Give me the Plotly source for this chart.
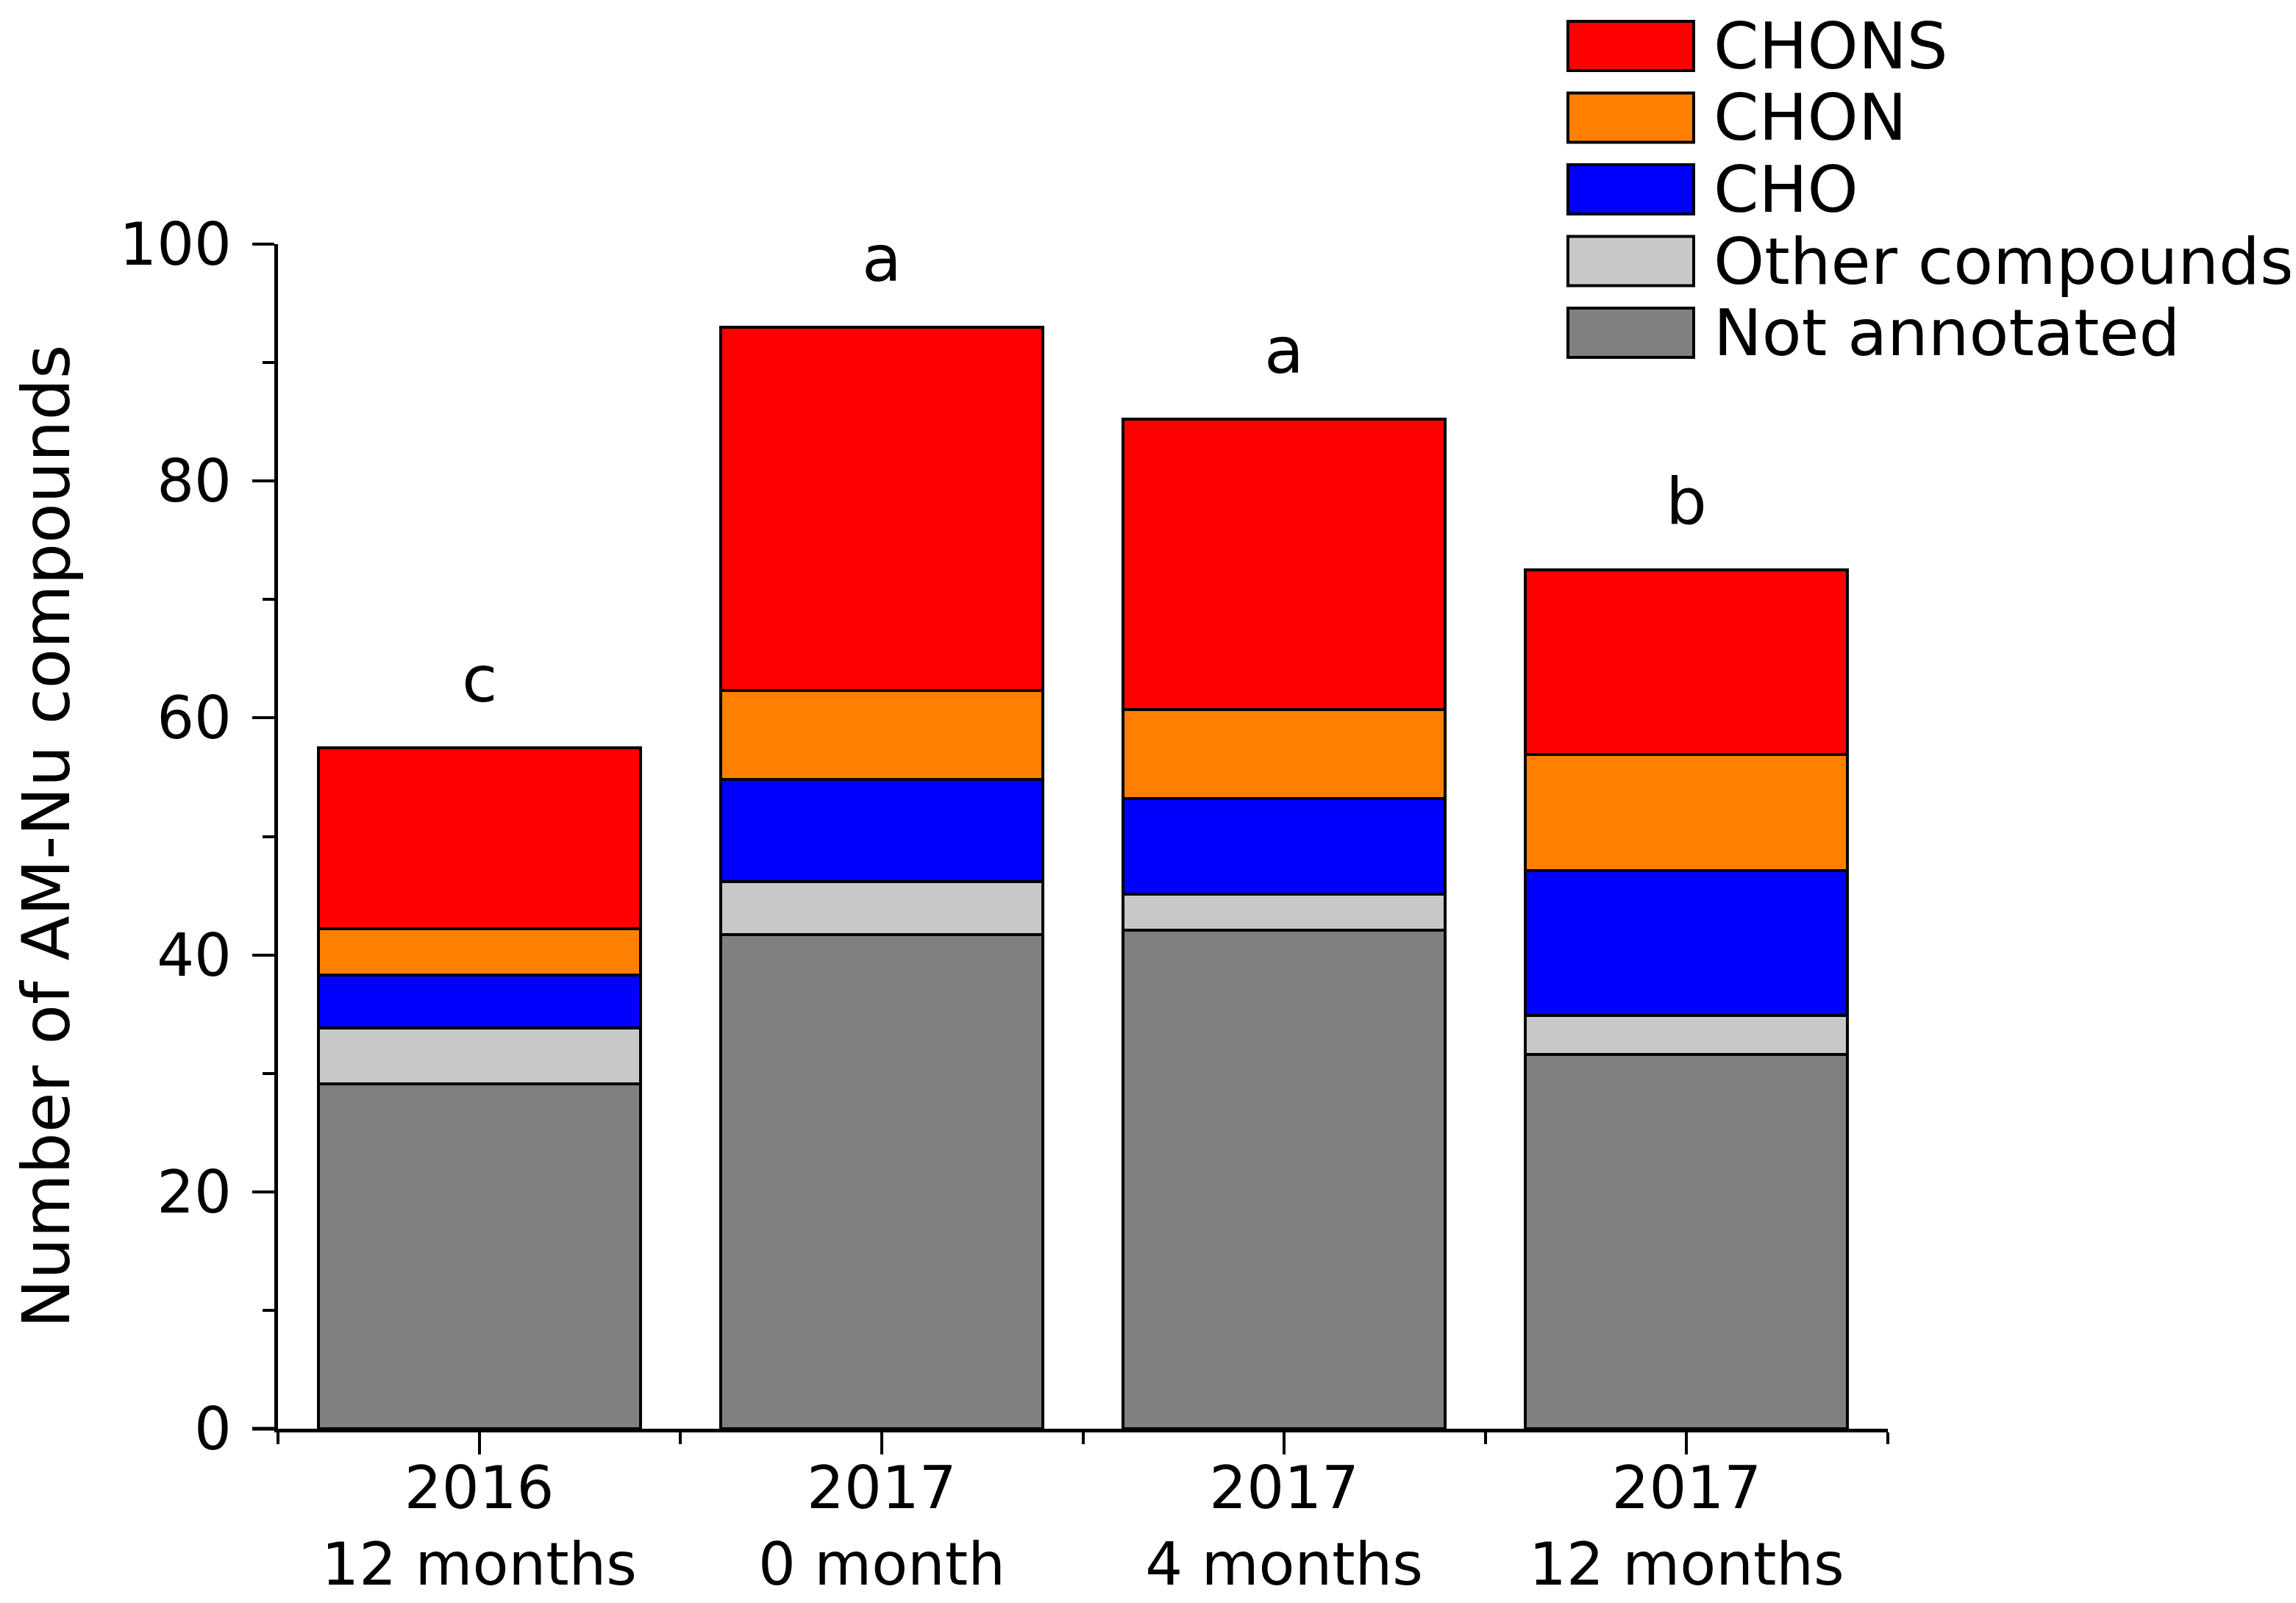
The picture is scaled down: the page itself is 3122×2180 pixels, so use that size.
import plotly.graph_objects as go

# ---------------- data ----------------
categories = ["2016<br>12 months", "2017<br>0 month", "2017<br>4 months", "2017<br>12 months"]
not_annotated = [29.1, 41.7, 42.1, 31.6]
other_compounds = [4.7, 4.5, 3.0, 3.3]
cho = [4.5, 8.6, 8.1, 12.2]
chon = [3.9, 7.5, 7.5, 9.8]
chons = [15.3, 30.7, 24.5, 15.6]
letters = ["c", "a", "a", "b"]
series_names = ["Not annotated", "Other compounds", "CHO", "CHON", "CHONS"]
series_colors = ["#808080", "#C8C8C8", "#0000FF", "#FF8000", "#FF0000"]
y_ticks = [0, 20, 40, 60, 80, 100]

# ---------------- layout constants ----------------
W, H = 3122, 2180
OFF = 8  # default page body margin offset
L, R, T, B = 378, 555, 332, 237  # target plot-area edges in page pixels
FONT = "DejaVu Sans"
TICK_SIZE = 80
BIG_SIZE = 88
TITLE_SIZE = 89

ml, mt = L - OFF, T - OFF
mr, mb = R + OFF, B + OFF
pw, ph = W - ml - mr, H - mt - mb


def px_to_paper_x(px):
    return (px - OFF - ml) / pw


def px_to_paper_y(py):
    return (H - mb - (py - OFF)) / ph


series_values = [not_annotated, other_compounds, cho, chon, chons]
x_pos = list(range(len(categories)))

fig = go.Figure()
for name, vals, col in zip(series_names, series_values, series_colors):
    fig.add_trace(go.Bar(
        x=x_pos, y=vals, name=name, width=0.8,
        marker=dict(color=col, line=dict(color="black", width=4)),
        showlegend=False,
    ))

totals = [sum(v) for v in zip(*series_values)]
annotations = []
for xi, tot, let in zip(x_pos, totals, letters):
    annotations.append(dict(
        x=xi, y=tot, xref="x", yref="y", text=let, showarrow=False,
        yanchor="bottom", yshift=40, font=dict(family=FONT, size=BIG_SIZE, color="black"),
    ))

# custom legend (large swatches like the original)
shapes = []
box_left, box_right = 2132, 2303
box_top0, box_h, pitch = 29, 67, 97.5
text_x = 2328
for i, (name, col) in enumerate(zip(series_names[::-1], series_colors[::-1])):
    top = box_top0 + i * pitch
    shapes.append(dict(
        type="rect", xref="paper", yref="paper",
        x0=px_to_paper_x(box_left), x1=px_to_paper_x(box_right),
        y0=px_to_paper_y(top + box_h), y1=px_to_paper_y(top),
        fillcolor=col, line=dict(color="black", width=4),
    ))
    annotations.append(dict(
        x=px_to_paper_x(text_x), y=px_to_paper_y(top + box_h / 2),
        xref="paper", yref="paper", text=name, showarrow=False,
        xanchor="left", yanchor="middle",
        font=dict(family=FONT, size=BIG_SIZE, color="black"),
    ))

# x-axis line stub extending left of the y-axis, as in the original
shapes.append(dict(type="line", xref="paper", yref="paper",
                   x0=px_to_paper_x(343), x1=0, y0=0, y1=0,
                   line=dict(color="black", width=5)))

fig.update_layout(
    width=W, height=H, autosize=False,
    margin=dict(l=ml, r=mr, t=mt, b=mb, pad=0),
    paper_bgcolor="white", plot_bgcolor="white",
    barmode="stack",
    font=dict(family=FONT, size=TICK_SIZE, color="black"),
    annotations=annotations, shapes=shapes,
    xaxis=dict(
        range=[-0.5, 3.5], tickmode="array", tickvals=x_pos, ticktext=categories,
        automargin=False, ticklabelstandoff=-23,
        showline=True, linecolor="black", linewidth=5, showgrid=False, zeroline=False,
        ticks="outside", ticklen=30, tickwidth=4, tickcolor="black",
        tickfont=dict(family=FONT, size=TICK_SIZE, color="black"),
        minor=dict(tick0=-0.5, dtick=1, ticks="outside", ticklen=16, tickwidth=4,
                   tickcolor="black", showgrid=False),
    ),
    yaxis=dict(
        range=[0, 100], tickmode="array", tickvals=y_ticks,
        automargin=False, ticklabelstandoff=12,
        showline=True, linecolor="black", linewidth=5, showgrid=False, zeroline=False,
        ticks="outside", ticklen=30, tickwidth=4, tickcolor="black",
        tickfont=dict(family=FONT, size=TICK_SIZE, color="black"),
        minor=dict(tick0=0, dtick=10, ticks="outside", ticklen=16, tickwidth=4,
                   tickcolor="black", showgrid=False),
        title=dict(text="Number of AM-Nu compounds", standoff=40,
                   font=dict(family=FONT, size=TITLE_SIZE, color="black")),
    ),
)

fig.write_html("out.html")
